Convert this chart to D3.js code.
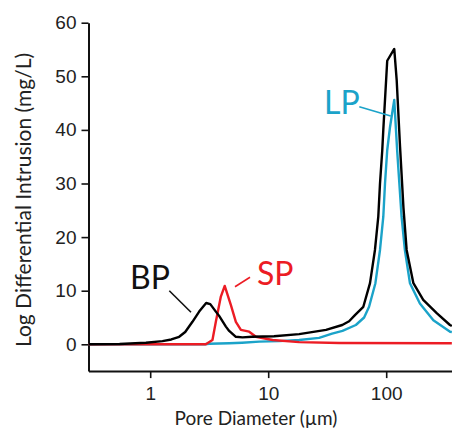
<!DOCTYPE html>
<meta charset="utf-8">
<style>
    body { margin: 0; background: #fff; }
    .tick text { font-family: "Liberation Sans", Arial, sans-serif; fill: #222; }
</style>
<body>
<svg width="452" height="431"></svg>
<script src="https://d3js.org/d3.v7.min.js"></script>
<script>
    // values: pore diameter (µm) and log differential intrusion (mg/L)
    var bpDiameter = [0.3, 0.55, 0.92, 1.27, 1.51, 1.76, 1.98, 2.28, 2.6, 2.98, 3.23, 3.6, 3.84, 4.38, 4.67, 5.32, 6.06, 7.3, 11.2, 18.3, 30.9, 42.4, 48.5, 54.6, 64, 72.9, 80.3, 85.7, 88.6, 92.6, 94.5, 102, 117, 122.7, 131, 140, 149, 170, 206, 268, 347, 360];
    var bpValue = [0, 0.05, 0.3, 0.6, 0.9, 1.4, 2.3, 4.2, 6.1, 7.7, 7.5, 6.1, 5.3, 3.3, 2.5, 1.4, 1.3, 1.4, 1.5, 1.9, 2.7, 3.6, 4.3, 5.5, 7.0, 11.4, 17.6, 23.8, 30, 36.2, 40, 52.9, 55.1, 49.3, 36.9, 25.5, 17.6, 11.4, 8.3, 5.8, 3.6, 3.4];

    var spDiameter = [0.3, 2.96, 3.37, 3.6, 3.97, 4.28, 4.83, 5.32, 5.87, 6.9, 7.87, 10.9, 18.3, 40, 360];
    var spValue = [0, 0, 0.8, 4.2, 8.9, 10.9, 7.3, 4.2, 2.7, 2.35, 1.4, 0.8, 0.4, 0.25, 0.2];

    var lpDiameter = [0.3, 2.9, 3.16, 4.67, 6.0, 8.4, 12.4, 18.3, 27, 34.8, 42.6, 55.3, 65, 71.6, 81, 88.6, 94.5, 97.7, 102, 107.7, 117, 124, 135, 144, 159, 193, 251, 348, 360];
    var lpValue = [0, 0, 0.1, 0.2, 0.3, 0.5, 0.6, 0.8, 1.2, 2.0, 2.5, 3.6, 5.0, 7.0, 11.4, 17.6, 23.8, 30, 36.2, 40.5, 45.6, 36, 23.8, 17.6, 11.4, 7.6, 4.5, 2.35, 2.3];

    var xMajorTicks = [1, 10, 100];
    var xMinorTicks = [0.3, 0.4, 0.5, 0.6, 0.7, 0.8, 0.9, 2, 3, 4, 5, 6, 7, 8, 9, 20, 30, 40, 50, 60, 70, 80, 90, 200, 300];
    var yMajorTicks = [0, 10, 20, 30, 40, 50, 60];
    var yMinorTicks = [5, 15, 25, 35, 45, 55];

    var svg = d3.select("svg");

    var x = d3.scaleLog()
        .domain([0.3, 360])
        .range([88.5, 88.5 + 118 * Math.log10(1200)]);

    var y = d3.scaleLinear()
        .domain([-5, 60])
        .range([371.1, 22.7]);

    // axes
    var xAxisG = svg.append("g").attr("transform", "translate(0," + y(-5) + ")");
    xAxisG.call(d3.axisBottom(x).tickValues(xMinorTicks).tickSize(3.5).tickFormat(""));
    xAxisG.call(d3.axisBottom(x).tickValues(xMajorTicks).tickSize(7).tickSizeOuter(0).tickPadding(8)
        .tickFormat(d3.format("d")));
    var yAxisG = svg.append("g").attr("transform", "translate(" + x(0.3) + ",0)");
    yAxisG.call(d3.axisLeft(y).tickValues(yMinorTicks).tickSize(3.5).tickFormat(""));
    yAxisG.call(d3.axisLeft(y).tickValues(yMajorTicks).tickSize(7).tickSizeOuter(0).tickPadding(5));

    svg.selectAll(".domain").attr("stroke", "#111").attr("stroke-width", 2);
    svg.selectAll(".tick line").attr("stroke", "#111").attr("stroke-width", 1.6);
    svg.selectAll(".tick text").attr("font-size", 19);

    // axis titles
    svg.append("text")
        .attr("x", 256)
        .attr("y", 425)
        .attr("text-anchor", "middle")
        .attr("font-family", "Lato, sans-serif")
        .attr("font-size", 19)
        .attr("fill", "#222")
        .text("Pore Diameter (µm)");

    svg.append("text")
        .attr("transform", "translate(31,200) rotate(-90)")
        .attr("text-anchor", "middle")
        .attr("font-family", "Lato, sans-serif")
        .attr("font-size", 21)
        .attr("fill", "#222")
        .text("Log Differential Intrusion (mg/L)");

    // curves
    var line = d3.line()
        .x(function(d) { return x(d[0]); })
        .y(function(d) { return y(d[1]); });

    var series = [
        { d: lpDiameter, v: lpValue, color: "#1ba3c9" },
        { d: spDiameter, v: spValue, color: "#ec1c24" },
        { d: bpDiameter, v: bpValue, color: "#000000" }
    ];

    series.forEach(function(s) {
        svg.append("path")
            .datum(d3.zip(s.d, s.v))
            .attr("d", line)
            .attr("fill", "none")
            .attr("stroke", s.color)
            .attr("stroke-width", 2.4)
            .attr("stroke-linejoin", "round");
    });

    // labels with leader lines
    var labels = [
        { text: "BP", color: "#111", tx: 130, ty: 289, l: [169.3, 290.7, 191, 312.3] },
        { text: "SP", color: "#ec1c24", tx: 257, ty: 284.5, l: [235, 286.7, 250, 277.3] },
        { text: "LP", color: "#1ba3c9", tx: 324, ty: 113.5, l: [359.3, 106.7, 390.7, 116] }
    ];

    labels.forEach(function(lb) {
        svg.append("text")
            .attr("x", lb.tx)
            .attr("y", lb.ty)
            .attr("font-family", "Lato, sans-serif")
            .attr("font-size", 32)
            .attr("fill", lb.color)
            .text(lb.text);
        svg.append("line")
            .attr("x1", lb.l[0]).attr("y1", lb.l[1])
            .attr("x2", lb.l[2]).attr("y2", lb.l[3])
            .attr("stroke", lb.color)
            .attr("stroke-width", 1.6);
    });
</script>
</body>
